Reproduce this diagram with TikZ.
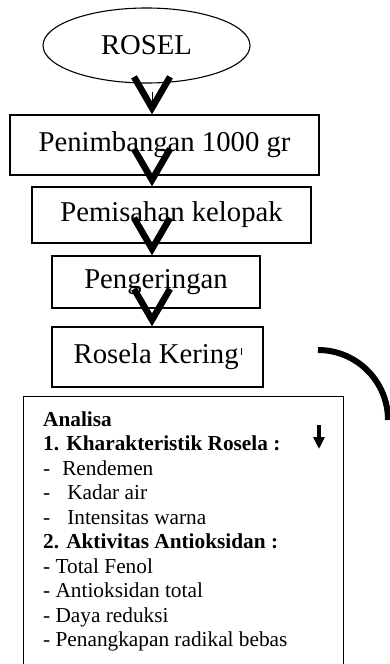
\documentclass[tikz,border=0pt]{standalone}
\usepackage{fontspec}
\setmainfont{Liberation Serif}
\usepackage{tikz}
\usetikzlibrary{shapes.geometric}
\usetikzlibrary{matrix}
\usetikzlibrary{arrows.meta}
\tikzset{
oval/.style={
  ellipse,
  draw,
  line width=1.1pt,
  minimum width=207pt,
  minimum height=75pt,
  inner sep=0pt,
  font=\fontsize{28.7}{33}\selectfont
},
stepbox/.style={
  rectangle,
  draw,
  line width=1.3pt,
  inner sep=0pt,
  font=\fontsize{28.7}{33}\selectfont
},
chevron/.style={
  line width=0.6pt,
  shorten <=8pt,
  -{Straight Barb[length=31pt,width=36pt,line width=6.5pt]}
},
items/.style={
  matrix of nodes,
  row sep=0pt,
  inner sep=0pt,
  nodes={anchor=base west,inner sep=0pt,text height=17.5pt,text depth=7pt,
    font=\fontsize{21.3}{24.5}\selectfont}
},
}

\begin{document}
\begin{tikzpicture}[x=1pt,y=1pt]
\useasboundingbox (0,0) rectangle (389,-664);
% the flow
\node[oval] (rosel) at (146.5,-45.5) {ROSEL};
\node[stepbox,minimum width=309pt,minimum height=60pt] (weigh) at (164.5,-145) {Penimbangan 1000 gr};
\node[stepbox,minimum width=279pt,minimum height=56pt] (petal) at (171.5,-215) {Pemisahan kelopak};
\node[stepbox,minimum width=208pt,minimum height=52pt] (dry) at (156,-282) {Pengeringan};
\node[stepbox,minimum width=211pt,minimum height=60pt] (dried) at (157.5,-357)
  {Rosela Kering\hspace{2pt}\rule[9pt]{0.7pt}{7pt}};
% the analysis box
\node[stepbox,anchor=north west,minimum width=320pt,minimum height=300pt] (analysis) at (23,-396) {};
\matrix (list) [items,anchor=north west] at ([xshift=20pt,yshift=-12.5pt]analysis.north west)
{
\textbf{Analisa} \\
\textbf{1. Kharakteristik Rosela :} \\
-\hspace{12pt}Rendemen \\
-\hspace{17pt}Kadar air \\
-\hspace{17pt}Intensitas warna \\
\textbf{2. Aktivitas Antioksidan :} \\
- Total Fenol \\
- Antioksidan total \\
- Daya reduksi \\
- Penangkapan radikal bebas \\
};
% the arrows
\coordinate (axis) at (152,0);
\foreach \a/\b in {rosel/weigh,weigh/petal,petal/dry,dry/dried}
{
  \draw[chevron] (\a.south -| axis) -- (\b.north -| axis);
}
\coordinate (dntop) at (319,-425);
\coordinate (dnend) at (319,-449);
\draw[line width=3.5pt,-{Triangle[length=12pt,width=11pt]}] (dntop) -- (dnend);
% the bend on the right
\coordinate (bend) at (318,-350);
\draw[line width=6pt] (bend) arc[start angle=90,end angle=0,radius=70pt];
\end{tikzpicture}
\end{document}
